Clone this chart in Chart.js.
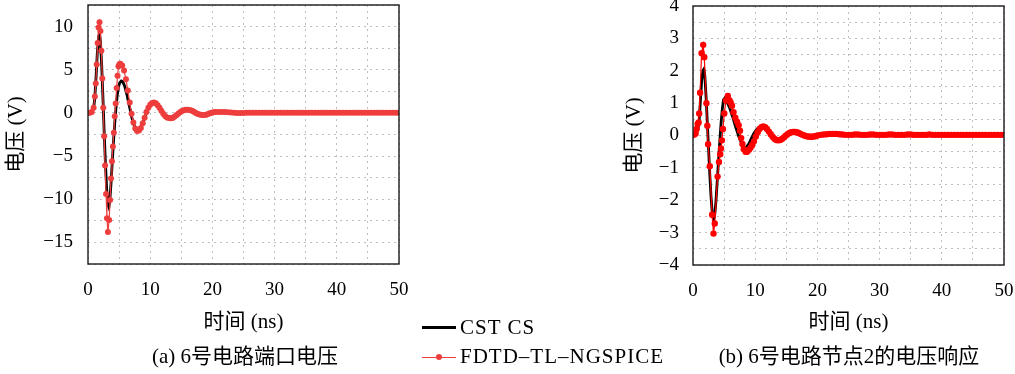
<!DOCTYPE html>
<html>
<head>
<meta charset="utf-8">
<script src="https://cdn.jsdelivr.net/npm/chart.js@4/dist/chart.umd.min.js"></script>
<style>
  body { margin: 0; background: #fff; width: 1015px; height: 374px; overflow: hidden; position: relative;
         font-family: "Liberation Serif", "Noto Sans CJK SC", serif; color: #000; }
  canvas { position: absolute; top: 0; }
  #chartA { left: 0; }
  #chartB { left: 600px; }
  .txt { position: absolute; font-size: 21px; white-space: nowrap; line-height: 24px; }
  .cap { transform: translate(-50%, -50%); }
  .wide { letter-spacing: 1px; }
  .leg-line { position: absolute; height: 3px; background: #000; }
  .leg-red { position: absolute; height: 1px; background: #ee3d3d; }
  .leg-dot { position: absolute; width: 6px; height: 6px; border-radius: 50%; background: #ee3d3d; }
</style>
</head>
<body>
<canvas id="chartA" width="430" height="345"></canvas>
<canvas id="chartB" width="415" height="345"></canvas>

<div class="leg-line" style="left:422px; top:326px; width:34px;"></div>
<div class="txt wide" style="left:460px; top:315px;">CST CS</div>
<div class="leg-red" style="left:422px; top:357px; width:34px;"></div>
<div class="leg-dot" style="left:436px; top:354px;"></div>
<div class="txt wide" style="left:460px; top:344px;">FDTD–TL–NGSPICE</div>

<div class="txt cap" style="left:245px; top:356px;">(a) 6号电路端口电压</div>
<div class="txt cap" style="left:849px; top:356px;">(b) 6号电路节点2的电压响应</div>

<script>
// (a) port voltage - FDTD-TL-NGSPICE
const fdtdTimeA = [0, 0.3, 0.6, 0.9, 1.1, 1.25, 1.4, 1.55, 1.7, 1.85, 2.0, 2.15, 2.3, 2.45, 2.6, 2.75, 2.9, 3.05, 3.2, 3.4,
    3.55, 3.7, 3.85, 4.0, 4.15, 4.3, 4.45, 4.6, 4.75, 4.9, 5.05,
    5.2, 5.5, 5.8, 6.1, 6.4, 6.7, 7.0, 7.3, 7.6, 7.9, 8.2, 8.5, 8.8, 9.1, 9.4, 9.7, 10.0, 10.3, 10.6, 10.9,
    11.2, 11.5, 11.8, 12.1, 12.4, 12.7, 13.0, 13.3, 13.6, 13.9, 14.2, 14.5, 14.8, 15.1, 15.4, 15.7, 16.0, 16.3, 16.6, 16.9,
    17.2, 17.5, 17.8, 18.1, 18.4, 18.7, 19.0, 19.3, 19.6, 19.9, 20.2,
    20.5, 21, 21.5, 22, 22.5, 23, 23.5, 24, 24.5, 25, 25.5, 26, 26.5, 27, 27.5, 28, 28.5, 29, 29.5, 30,
    30.5, 31, 31.5, 32, 32.5, 33, 33.5, 34, 34.5, 35, 35.5, 36, 36.5, 37, 37.5, 38, 38.5, 39, 39.5, 40,
    40.5, 41, 41.5, 42, 42.5, 43, 43.5, 44, 44.5, 45, 45.5, 46, 46.5, 47, 47.5, 48, 48.5, 49, 49.5, 50];
const fdtdVoltA = [0, 0.02, 0.1, 0.6, 1.9, 3.4, 5.6, 8.1, 9.9, 10.5, 9.5, 7.2, 4.0, 0.6, -2.7, -6.1, -9.4, -12.2, -13.8, -12.4,
    -10.1, -7.6, -5.6, -3.9, -2.3, -0.4, 1.1, 2.9, 4.3, 5.4, 5.65,
    5.7, 5.5, 4.9, 3.9, 2.6, 1.2, -0.1, -1.1, -1.8, -2.1, -2.05, -1.75, -1.2, -0.55, 0.1, 0.6, 0.95, 1.15, 1.2, 1.12,
    0.9, 0.6, 0.25, -0.1, -0.35, -0.52, -0.6, -0.62, -0.58, -0.45, -0.28, -0.1, 0.08, 0.22, 0.32, 0.37, 0.38, 0.35, 0.28, 0.18,
    0.06, -0.06, -0.16, -0.22, -0.25, -0.24, -0.2, -0.13, -0.05, 0.02, 0.07,
    0.1, 0.12, 0.12, 0.1, 0.07, 0.04, 0.02, 0.0, -0.01, 0.0, 0.01, 0.02, 0.02, 0.02, 0.01, 0.01, 0.01, 0.02, 0.02, 0.02,
    0.02, 0.02, 0.02, 0.02, 0.02, 0.02, 0.02, 0.02, 0.02, 0.02, 0.02, 0.02, 0.02, 0.02, 0.02, 0.02, 0.02, 0.02, 0.02, 0.02,
    0.02, 0.02, 0.02, 0.02, 0.02, 0.02, 0.02, 0.02, 0.02, 0.02, 0.02, 0.02, 0.02, 0.02, 0.02, 0.02, 0.02, 0.02, 0.02, 0.02];

// (a) port voltage - CST CS
const cstTimeA = [0, 0.5, 0.9, 1.1, 1.3, 1.5, 1.7, 1.85, 2.0, 2.2, 2.4, 2.6, 2.8, 3.0, 3.2, 3.35, 3.5, 3.7, 3.9, 4.1,
    4.3, 4.5, 4.7, 4.9, 5.1, 5.35, 5.6, 5.9, 6.2, 6.5, 6.8, 7.1, 7.4, 7.7, 8.0, 8.3, 8.6, 8.9, 9.2, 9.5,
    9.8, 10.1, 10.4, 10.7, 11.0, 11.3, 11.6, 11.9, 12.2, 12.5, 12.8, 13.1, 13.4, 13.7, 14.0, 14.3, 14.6, 15.0, 15.5, 16.0,
    16.5, 17.0, 17.5, 18.0, 18.5, 19.0, 19.5, 20.0, 21, 22, 23, 24, 26, 30, 35, 40, 45, 50];
const cstVoltA = [0, 0.05, 0.5, 1.8, 4.2, 7.0, 8.8, 9.2, 8.3, 5.5, 1.8, -2.2, -5.8, -8.8, -10.6, -10.9, -10.2, -8.2, -5.7, -3.3,
    -1.2, 0.6, 2.0, 3.0, 3.5, 3.7, 3.6, 3.1, 2.3, 1.3, 0.3, -0.7, -1.4, -1.85, -2.0, -1.9, -1.55, -1.0, -0.4, 0.2,
    0.65, 0.95, 1.1, 1.1, 0.95, 0.7, 0.38, 0.05, -0.25, -0.45, -0.56, -0.6, -0.56, -0.45, -0.3, -0.12, 0.05, 0.22, 0.34, 0.36,
    0.3, 0.16, -0.02, -0.16, -0.22, -0.2, -0.1, 0.0, 0.1, 0.08, 0.03, 0, 0.01, 0.02, 0.02, 0.02, 0.02, 0.02];

// (b) node 2 voltage - FDTD-TL-NGSPICE
const fdtdTimeB = [0, 0.2, 0.42, 0.58, 0.74, 0.9, 1.0, 1.14, 1.38, 1.64, 1.81, 2.16, 2.3, 2.43, 2.7, 3.07, 3.3, 3.5, 3.95, 4.17,
    4.38, 4.5, 4.65, 4.81, 5.03, 5.3, 5.6, 5.88, 6.05, 6.27, 6.52, 6.8, 7.07, 7.34, 7.55, 7.75, 7.95, 8.15, 8.45, 8.7,
    9.0, 9.25, 9.5,
    9.8, 10.1, 10.4, 10.7, 11.0, 11.3, 11.6, 11.9, 12.2, 12.5, 12.8, 13.1, 13.4, 13.7, 14.0, 14.3, 14.6, 14.9, 15.2, 15.5,
    15.8, 16.1, 16.4, 16.7, 17.0, 17.3, 17.6, 17.9, 18.2, 18.5, 18.8, 19.1, 19.4, 19.7, 20.0,
    20.5, 21, 21.5, 22, 22.5, 23, 23.5, 24, 24.5, 25, 25.5, 26, 26.5, 27, 27.5, 28, 28.5, 29, 29.5, 30,
    30.5, 31, 31.5, 32, 32.5, 33, 33.5, 34, 34.5, 35, 35.5, 36, 36.5, 37, 37.5, 38, 38.5, 39, 39.5, 40,
    40.5, 41, 41.5, 42, 42.5, 43, 43.5, 44, 44.5, 45, 45.5, 46, 46.5, 47, 47.5, 48, 48.5, 49, 49.5, 50];
const fdtdVoltB = [0.02, 0.03, 0.06, 0.2, 0.36, 0.4, 0.68, 1.32, 2.54, 2.8, 2.42, 1.0, 0.3, -0.27, -0.95, -2.45, -3.03, -2.72, -1.27, -0.82,
    -0.58, -0.4, -0.15, 0.2, 0.68, 1.08, 1.22, 1.08, 1.02, 0.92, 0.72, 0.55, 0.43, 0.32, 0.15, -0.08, -0.26, -0.42, -0.5, -0.5,
    -0.44, -0.38, -0.3,
    -0.18, -0.03, 0.1, 0.2, 0.26, 0.28, 0.26, 0.2, 0.12, 0.04, -0.04, -0.1, -0.14, -0.15, -0.14, -0.11, -0.06, -0.01, 0.04, 0.08,
    0.1, 0.11, 0.11, 0.1, 0.08, 0.05, 0.02, 0, -0.02, -0.03, -0.04, -0.04, -0.03, -0.02, 0,
    0.02, 0.03, 0.04, 0.05, 0.05, 0.05, 0.04, 0.03, 0.02, 0.02, 0.02, 0.03, 0.03, 0.02, 0.02, 0.02, 0.03, 0.03, 0.02, 0.02,
    0.02, 0.02, 0.03, 0.03, 0.02, 0.02, 0.02, 0.02, 0.03, 0.03, 0.02, 0.02, 0.02, 0.02, 0.02, 0.03, 0.02, 0.02, 0.02, 0.02,
    0.02, 0.02, 0.02, 0.02, 0.02, 0.02, 0.02, 0.02, 0.02, 0.02, 0.02, 0.02, 0.02, 0.02, 0.02, 0.02, 0.02, 0.02, 0.02, 0.02];

// (b) node 2 voltage - CST CS
const cstTimeB = [0, 0.5, 0.8, 1.0, 1.2, 1.4, 1.6, 1.75, 1.9, 2.1, 2.3, 2.5, 2.7, 2.9, 3.1, 3.3, 3.5, 3.7, 3.9, 4.1,
    4.3, 4.5, 4.7, 4.9, 5.1, 5.3, 5.6, 5.9, 6.2, 6.5, 6.8, 7.1, 7.4, 7.7, 8.0, 8.3, 8.6, 9.0, 9.4, 9.8,
    10.2, 10.6, 11.0, 11.4, 11.8, 12.2, 12.6, 13.0, 13.4, 13.8, 14.2, 14.6, 15.0, 15.5, 16.0, 16.5, 17.0, 17.5, 18.0, 19.0,
    20, 22, 24, 27, 30, 35, 40, 45, 50];
const cstVoltB = [0, 0.05, 0.2, 0.5, 1.1, 1.7, 2.0, 2.05, 1.85, 1.2, 0.4, -0.4, -1.2, -1.9, -2.4, -2.6, -2.45, -2.0, -1.4, -0.8,
    -0.2, 0.35, 0.8, 1.1, 1.15, 1.08, 0.98, 0.85, 0.68, 0.5, 0.3, 0.12, -0.05, -0.18, -0.3, -0.38, -0.36, -0.25, -0.08, 0.07,
    0.18, 0.25, 0.27, 0.24, 0.17, 0.08, -0.02, -0.09, -0.13, -0.14, -0.12, -0.07, -0.01, 0.05, 0.09, 0.1, 0.08, 0.04, 0.0, -0.04,
    0, 0.04, 0.03, 0.02, 0.02, 0.02, 0.02, 0.02, 0.02];

const seriesNames = ['CST CS', 'FDTD–TL–NGSPICE'];
const xTitle = '时间 (ns)';
const yTitle = '电压 (V)';

const fontTick = { family: '"Liberation Serif", "Noto Sans CJK SC", serif', size: 19 };
const fontTitle = { family: '"Liberation Serif", "Noto Sans CJK SC", serif', size: 21 };

function toPoints(ts, vs) {
    return ts.map((t, i) => ({ x: t, y: vs[i] }));
}

function fmt(v) {
    return String(v).replace('-', '\u2212');
}

// solid box around the plot area
const frame = {
    id: 'frame',
    afterDraw(chart) {
        const { ctx, chartArea: a } = chart;
        ctx.save();
        ctx.strokeStyle = '#1a1a1a';
        ctx.lineWidth = 1.4;
        ctx.strokeRect(a.left, a.top, a.right - a.left, a.bottom - a.top);
        ctx.restore();
    }
};

function makeChart(id, tf, vf, tc, vc, o) {
    const ctx = document.getElementById(id).getContext('2d');
    return new Chart(ctx, {
        type: 'line',
        data: {
            datasets: [{
                label: seriesNames[1],
                data: toPoints(tf, vf),
                borderColor: o.red,
                backgroundColor: o.red,
                borderWidth: 1.2,
                pointRadius: o.dot,
                pointBorderWidth: 0,
                pointBackgroundColor: o.red,
                tension: 0,
                order: 0
            }, {
                label: seriesNames[0],
                data: toPoints(tc, vc),
                borderColor: '#000',
                borderWidth: 2.8,
                pointRadius: 0,
                tension: 0,
                order: 1
            }]
        },
        options: {
            responsive: false,
            animation: false,
            events: [],
            layout: { padding: { top: o.top, right: o.right, left: 0, bottom: 0 } },
            plugins: { legend: { display: false }, tooltip: { enabled: false } },
            scales: {
                x: {
                    type: 'linear', min: 0, max: 50,
                    ticks: {
                        stepSize: 5, autoSkip: false, maxRotation: 0, padding: 15, color: '#000', font: fontTick,
                        callback: v => (Math.abs(v % 10) < 1e-9 ? fmt(v) : '')
                    },
                    grid: { color: '#b8b8b8', lineWidth: 0.9, drawTicks: false },
                    border: { display: false, dash: [2, 4] },
                    title: { display: true, text: xTitle, color: '#000', font: fontTitle, padding: { top: 0, bottom: 10 } },
                    afterFit: s => { s.height = o.xh; s.paddingLeft = 0; s.paddingRight = 0; }
                },
                y: {
                    type: 'linear', min: o.ymin, max: o.ymax,
                    ticks: {
                        stepSize: o.ystep, autoSkip: false, padding: o.ypad, color: '#000', font: fontTick,
                        callback: v => (Math.abs(v % o.ymajor) < 1e-9 ? fmt(v) : '')
                    },
                    grid: { color: '#b8b8b8', lineWidth: 0.9, drawTicks: false },
                    border: { display: false, dash: [2, 4] },
                    title: { display: true, text: yTitle, color: '#000', font: fontTitle, padding: { top: o.ytp, bottom: 0 } },
                    afterFit: s => { s.width = o.yw; s.paddingTop = 0; s.paddingBottom = 0; }
                }
            }
        },
        plugins: [frame]
    });
}

makeChart('chartA', fdtdTimeA, fdtdVoltA, cstTimeA, cstVoltA, {
    red: '#ee3d3d', dot: 3, top: 5, right: 31, xh: 81, yw: 88,
    ymin: -17.5, ymax: 12.5, ystep: 2.5, ymajor: 5, ypad: 15, ytp: 4
});
makeChart('chartB', fdtdTimeB, fdtdVoltB, cstTimeB, cstVoltB, {
    red: '#ff0000', dot: 3.2, top: 6, right: 11, xh: 80, yw: 93,
    ymin: -4, ymax: 4, ystep: 0.5, ymajor: 1, ypad: 14, ytp: 22
});
</script>
</body>
</html>
